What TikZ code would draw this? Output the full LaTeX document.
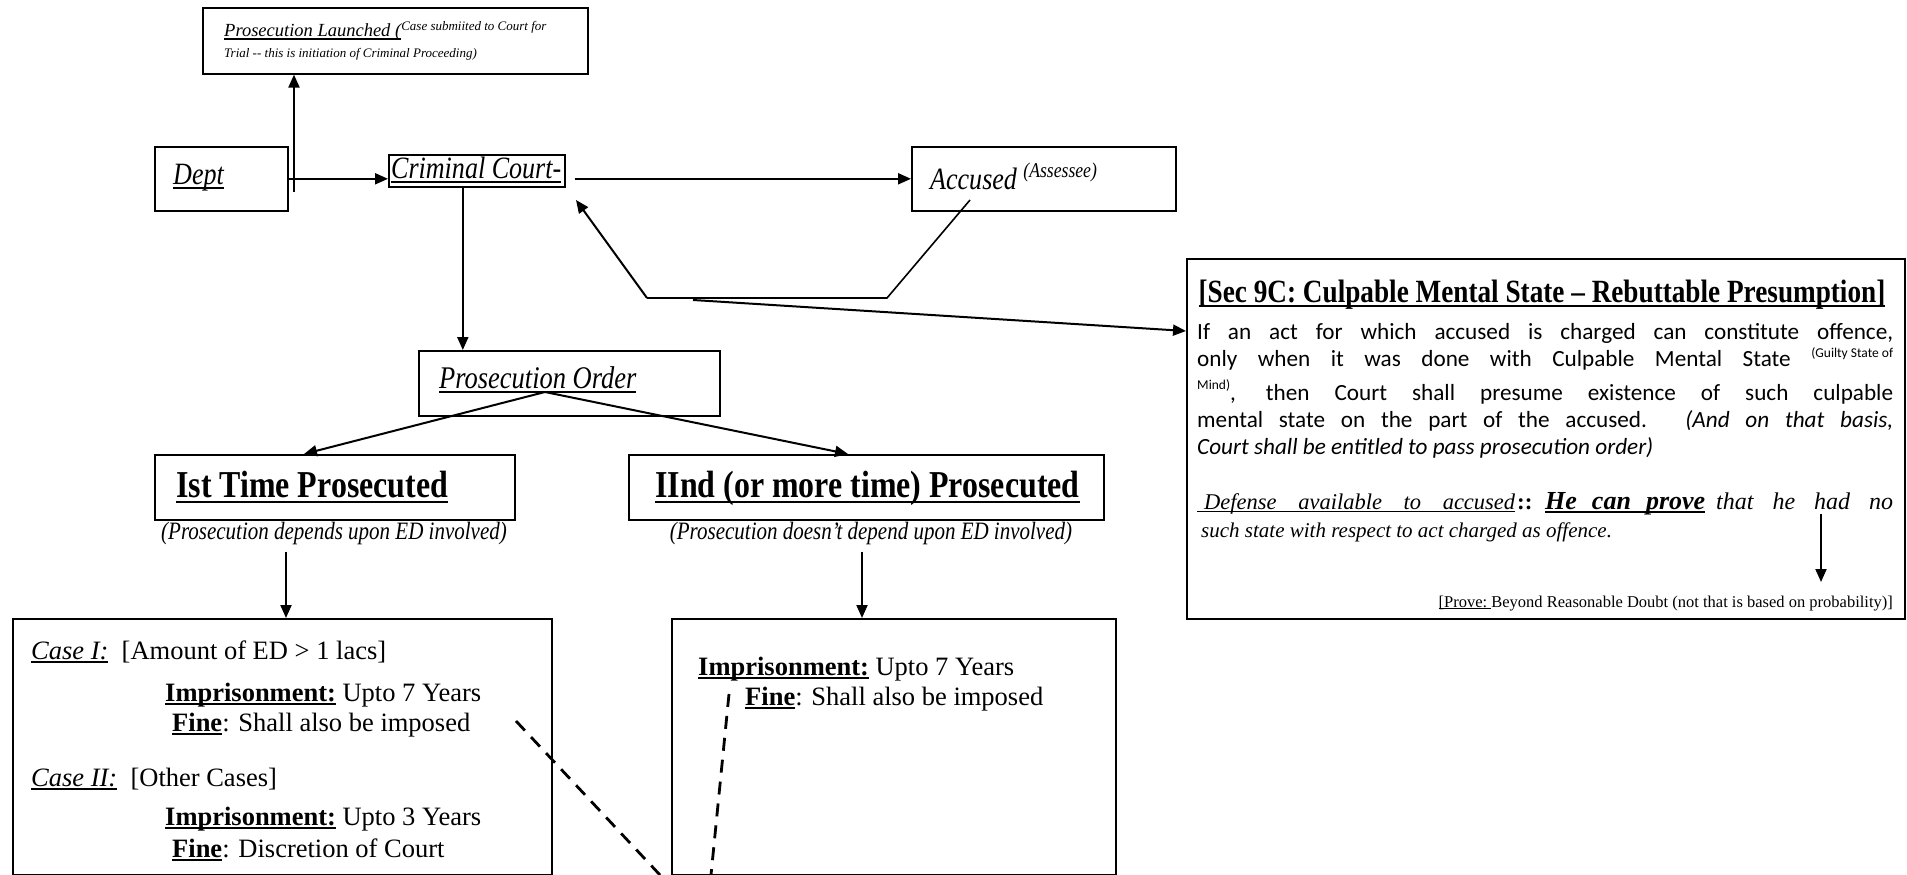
\documentclass[tikz,border=0pt]{standalone}
\usepackage{fontspec}
\setmainfont{Liberation Serif}
\newfontfamily\narrowserif[FakeStretch=0.84]{Liberation Serif}
\newfontfamily\calibfont{Carlito}
\usetikzlibrary{arrows.meta,calc}
\newcommand{\fsz}[1]{\fontsize{#1pt}{#1pt}\selectfont}
% underlined text with a rule of fixed weight
\newcommand{\ulx}[1]{\setbox0=\hbox{#1}\leavevmode\rlap{\rule[-0.15em]{\wd0}{1.6pt}}\box0}
% raised small text: raise, size, text
\newcommand{\suptext}[3]{\raisebox{#1}{\fsz{#2}#3}}

\begin{document}
\begin{tikzpicture}[x=1pt,y=-1pt,
  box/.style={draw, line width=1.6pt, inner sep=0pt, anchor=north west},
  txt/.style={inner sep=0pt, anchor=base west},
  ctxt/.style={inner sep=0pt, anchor=base},
  conn/.style={line width=2pt, -{Triangle[length=13pt,width=11pt]}},
  plainln/.style={line width=1.6pt},
  dashln/.style={line width=2.8pt, dash pattern=on 13pt off 9pt},
]
\useasboundingbox (0,0) rectangle (1907,875);

% ---------- boxes ----------
\node[box, minimum width=385pt, minimum height=66pt] (launch) at (202,7) {};
\node[box, minimum width=133pt, minimum height=64pt] (dept) at (154,146) {};
\node[box, minimum width=176pt, minimum height=32pt] (court) at (388,154) {};
\node[box, minimum width=264pt, minimum height=64pt] (accused) at (911,146) {};
\node[box, minimum width=301pt, minimum height=65pt] (order) at (418,350) {};
\node[box, minimum width=360pt, minimum height=65pt] (first) at (154,454) {};
\node[box, minimum width=475pt, minimum height=65pt] (second) at (628,454) {};
\node[box, minimum width=539pt, minimum height=256pt] (caseA) at (12,618) {};
\node[box, minimum width=444pt, minimum height=256pt] (caseB) at (671,618) {};
\node[box, line width=2.2pt, minimum width=718pt, minimum height=360pt] (sec) at (1186,258) {};

% ---------- texts ----------
\node[txt] (launchA) at (224,37) {\fsz{18.5}\itshape\ulx{Prosecution Launched (}\suptext{6pt}{13}{Case submiited to Court for}};
\node[txt] (launchB) at (224,58) {\fsz{13}\itshape Trial -{}- this is initiation of Criminal Proceeding)};

\node[txt] (depttxt) at (173,184) {\narrowserif\fsz{31}\itshape\ulx{Dept}};
\node[txt] (courttxt) at (391,178) {\narrowserif\fsz{31}\itshape\ulx{Criminal Court-}};
\node[txt] (accusedtxt) at (930,189) {\narrowserif\fsz{31}\itshape Accused \suptext{12pt}{21}{(Assessee)}};
\node[txt] (ordertxt) at (439,388) {\narrowserif\fsz{31.5}\itshape\ulx{Prosecution Order}};

\node[txt] (firsttxt) at (176,497) {\narrowserif\fsz{38}\bfseries\ulx{Ist Time Prosecuted}};
\node[txt] (secondtxt) at (655,497) {\narrowserif\fsz{38}\bfseries\ulx{IInd (or more time) Prosecuted}};
\node[ctxt] (firstcap) at (334,539) {\narrowserif\fsz{25}\itshape (Prosecution depends upon ED involved)};
\node[ctxt] (secondcap) at (871,539) {\narrowserif\fsz{25}\itshape (Prosecution doesn’t depend upon ED involved)};

\node[txt] (c1) at (31,659) {\fsz{26.5}\textit{\ulx{Case I:}}\ \ [Amount of ED > 1 lacs]};
\node[txt] (c1imp) at (165,701) {\fsz{26.5}\textbf{\ulx{Imprisonment:}} Upto 7 Years};
\node[txt] (c1fine) at (172,731) {\fsz{26.5}\textbf{\ulx{Fine}}: Shall also be imposed};
\node[txt] (c2) at (31,786) {\fsz{26.5}\textit{\ulx{Case II:}}\ \ [Other Cases]};
\node[txt] (c2imp) at (165,825) {\fsz{26.5}\textbf{\ulx{Imprisonment:}} Upto 3 Years};
\node[txt] (c2fine) at (172,857) {\fsz{26.5}\textbf{\ulx{Fine}}: Discretion of Court};

\node[txt] (dimp) at (698,675) {\fsz{26.5}\textbf{\ulx{Imprisonment:}} Upto 7 Years};
\node[txt] (dfine) at (745,705) {\fsz{26.5}\textbf{\ulx{Fine}}: Shall also be imposed};

\node[ctxt] (sectitle) at (1542,302) {\narrowserif\fsz{32.4}\bfseries\ulx{[Sec 9C: Culpable Mental State – Rebuttable Presumption]}};
\node[txt] (p1) at (1197,339) {\calibfont\fsz{23.2}\makebox[696pt][s]{If an act for which accused is charged can constitute offence,}};
\node[txt] (p2) at (1197,366) {\calibfont\fsz{23.2}\makebox[696pt][s]{only when it was done with Culpable Mental State \suptext{9pt}{13.5}{(Guilty State of}}};
\node[txt] (p3) at (1197,400) {\calibfont\fsz{23.2}\makebox[696pt][s]{\suptext{11pt}{13.5}{Mind)}, then Court shall presume existence of such culpable}};
\node[txt] (p4) at (1197,427) {\calibfont\fsz{23.2}\makebox[696pt][s]{mental state on the part of the accused. \textit{(And on that basis,}}};
\node[txt] (p5) at (1197,454) {\calibfont\fsz{23.2}\textit{Court shall be entitled to pass prosecution order)}};

\node[txt] (def1) at (1197,509) {\fsz{22.5}\itshape\ulx{\makebox[318pt][s]{\hspace{7pt}Defense available to accused}}};
\node[txt] (def2) at (1517,509) {\fsz{23}\bfseries ::};
\node[txt] (def3) at (1545,509) {\fsz{26}\bfseries\itshape\ulx{\makebox[160pt][s]{He can prove}}};
\node[txt] (def4) at (1716,509) {\fsz{24}\itshape\makebox[177pt][s]{that he had no}};
\node[txt] (def5) at (1201,537) {\fsz{21}\itshape such state with respect to act charged as offence.};
\node[inner sep=0pt, anchor=base east] (prove) at (1893,607) {\fsz{16.5}\ulx{[Prove:\ }Beyond Reasonable Doubt (not that is based on probability)]};

% ---------- connectors ----------
\coordinate (launchfoot) at (294,192);
\draw[conn] (launchfoot) -- (launchfoot |- launch.south);
\draw[conn] (dept.east) -- (dept.east -| court.west);
\draw[conn] ([xshift=9pt]court.east |- dept.east) -- (dept.east -| accused.west);
\draw[conn] ([xshift=-14pt]court.south) -- ([xshift=-14pt]court.south |- order.north);

% reply from the accused back to the court, and on to Sec 9C
\coordinate (fbA) at (970,200);
\coordinate (fbB) at (887,298);
\coordinate (fbC) at (647,298);
\coordinate (fbTip) at (576,200);
\coordinate (fbD) at (693,300);
\draw[plainln] (fbA) -- (fbB) -- (fbC);
\draw[conn] (fbC) -- (fbTip);
\draw[conn] (fbD) -- ([yshift=-73pt]sec.north west);

% prosecution order splits in two
\coordinate (split) at (545,392);
\draw[conn] (split) -- ([xshift=150pt]first.north west);
\draw[conn] (split) -- ([xshift=220pt]second.north west);
\draw[conn] ([xshift=132pt,yshift=-31pt]first.south west) -- ([xshift=132pt]first.south west |- caseA.north);
\draw[conn] ([xshift=234pt,yshift=-31pt]second.south west) -- ([xshift=234pt]second.south west |- caseB.north);

% burden of proof
\coordinate (proveTop) at (1821,514);
\coordinate (proveTip) at (1821,582);
\draw[conn] (proveTop) -- (proveTip);

% dashed leads running off the bottom
\coordinate (dashA1) at (516,721);
\coordinate (dashA2) at (660,875);
\coordinate (dashB1) at (729,694);
\coordinate (dashB2) at (711,875);
\draw[dashln] (dashA1) -- (dashA2);
\draw[dashln] (dashB1) -- (dashB2);
\end{tikzpicture}
\end{document}
